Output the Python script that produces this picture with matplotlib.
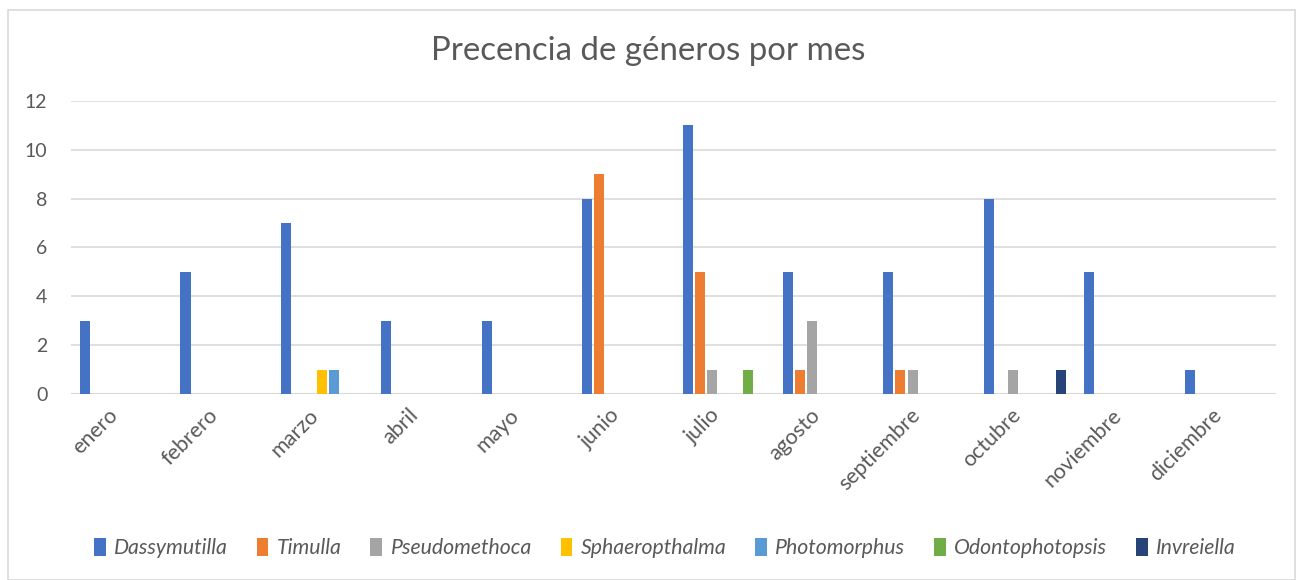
import matplotlib.pyplot as plt
from matplotlib.patches import Rectangle
import numpy as np

plt.rcParams['font.family'] = ['Lato', 'DejaVu Sans']

meses = ["enero", "febrero", "marzo", "abril", "mayo", "junio", "julio",
         "agosto", "septiembre", "octubre", "noviembre", "diciembre"]

generos = ["Dassymutilla", "Timulla", "Pseudomethoca", "Sphaeropthalma",
           "Photomorphus", "Odontophotopsis", "Invreiella"]

dassymutilla = [3, 5, 7, 3, 3, 8, 11, 5, 5, 8, 5, 1]
timulla = [0, 0, 0, 0, 0, 9, 5, 1, 1, 0, 0, 0]
pseudomethoca = [0, 0, 0, 0, 0, 0, 1, 3, 1, 1, 0, 0]
sphaeropthalma = [0, 0, 1, 0, 0, 0, 0, 0, 0, 0, 0, 0]
photomorphus = [0, 0, 1, 0, 0, 0, 0, 0, 0, 0, 0, 0]
odontophotopsis = [0, 0, 0, 0, 0, 0, 1, 0, 0, 0, 0, 0]
invreiella = [0, 0, 0, 0, 0, 0, 0, 0, 0, 1, 0, 0]

series = [dassymutilla, timulla, pseudomethoca, sphaeropthalma,
          photomorphus, odontophotopsis, invreiella]
colores = ["#4472C4", "#ED7D31", "#A5A5A5", "#FFC000",
           "#5B9BD5", "#70AD47", "#264478"]

gris = "#595959"

fig = plt.figure(figsize=(12.96, 5.8), dpi=100)
ax = fig.add_axes([0.0548, 0.3207, 0.9298, 0.5052])

x = np.arange(len(meses))
paso = 0.12
ancho = 0.1
for j in range(len(series)):
    ax.bar(x + (j - 3) * paso, series[j], width=ancho, color=colores[j],
           label=generos[j], zorder=3)

ax.set_xlim(-0.5, 11.5)
ax.set_ylim(0, 12)
ax.set_yticks(range(0, 13, 2))
ax.yaxis.grid(True, color="#D9D9D9", linewidth=1.2, zorder=0)
for s in ax.spines.values():
    s.set_visible(False)
ax.axhline(0, color="#D9D9D9", linewidth=1.5, zorder=2)
ax.tick_params(axis="y", length=0, colors=gris, labelsize=14, pad=17)
ax.set_xticks(x)
ax.set_xticklabels(meses, rotation=45, ha="right", va="top")
ax.tick_params(axis="x", length=0, colors=gris, labelsize=15.5, pad=8)

fig.text(0.5, 0.912, "Precencia de géneros por mes", ha="center",
         va="center", fontsize=23.8, color=gris)

fig.legend(loc="center", bbox_to_anchor=(0.513, 0.055), ncol=7, frameon=False,
           handlelength=0.55, handleheight=0.9, handletextpad=0.4,
           columnspacing=1.35,
           prop={"style": "italic", "size": 15.3}, labelcolor=gris)

fig.patches.append(Rectangle((0.006, 0.0), 0.993, 0.982, transform=fig.transFigure,
                             fill=False, edgecolor="#D9D9D9", linewidth=1.2))

fig.savefig("out.png", dpi=100)
